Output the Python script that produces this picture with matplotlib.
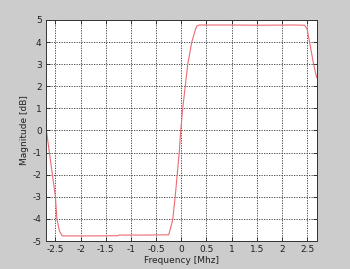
import matplotlib
matplotlib.use("Agg")
import matplotlib.pyplot as plt

freq = [-2.69, -2.62, -2.56, -2.50, -2.47, -2.42, -2.37, -2.34, -1.8, -1.26, -1.24, -0.7,
        -0.25, -0.21, -0.17, -0.12, -0.08, -0.04, -0.01, 0.03, 0.08, 0.13, 0.21, 0.28,
        0.31, 0.36, 1.0, 1.6, 2.2, 2.45, 2.50, 2.55, 2.63, 2.69]
mag = [0.2, -1, -2, -3, -4, -4.55, -4.75, -4.77, -4.77, -4.76, -4.73, -4.73,
       -4.72, -4.4, -4.05, -3, -2, -1, 0, 1, 2, 3, 4, 4.55,
       4.72, 4.77, 4.77, 4.76, 4.77, 4.76, 4.6, 4.0, 3.0, 2.4]
xticks = [-2.5, -2, -1.5, -1, -0.5, 0, 0.5, 1, 1.5, 2, 2.5]
xticklabels = ["-2.5", "-2", "-1.5", "-1", "-0.5", "0", "0.5", "1", "1.5", "2", "2.5"]
yticks = [-5, -4, -3, -2, -1, 0, 1, 2, 3, 4, 5]

plt.rcParams['axes.unicode_minus'] = False
fig = plt.figure(figsize=(3.5, 2.69), dpi=100, facecolor='#cccccc')
ax = fig.add_axes([0.131, 0.104, 0.775, 0.822])
ax.set_facecolor('white')
ax.plot(freq, mag, color='#ec6a74', lw=0.8)
ax.set_xlim(-2.69, 2.7)
ax.set_ylim(-5, 5)
ax.set_xticks(xticks)
ax.set_xticklabels(xticklabels)
ax.set_yticks(yticks)
ax.grid(True, color='#333333', linestyle=(0, (1.5, 1.5)), lw=0.6)
ax.tick_params(direction='in', length=3, width=0.6, labelsize=6.5, top=True, right=True, pad=3,
               colors='#222222')
for s in ax.spines.values():
    s.set_linewidth(0.7)
    s.set_color('#333333')
ax.set_xlabel('Frequency [Mhz]', fontsize=6.5, labelpad=1, color='#222222')
ax.set_ylabel('Magnitude [dB]', fontsize=6.5, labelpad=3, color='#222222')
fig.savefig('out.png', dpi=100, facecolor=fig.get_facecolor())
